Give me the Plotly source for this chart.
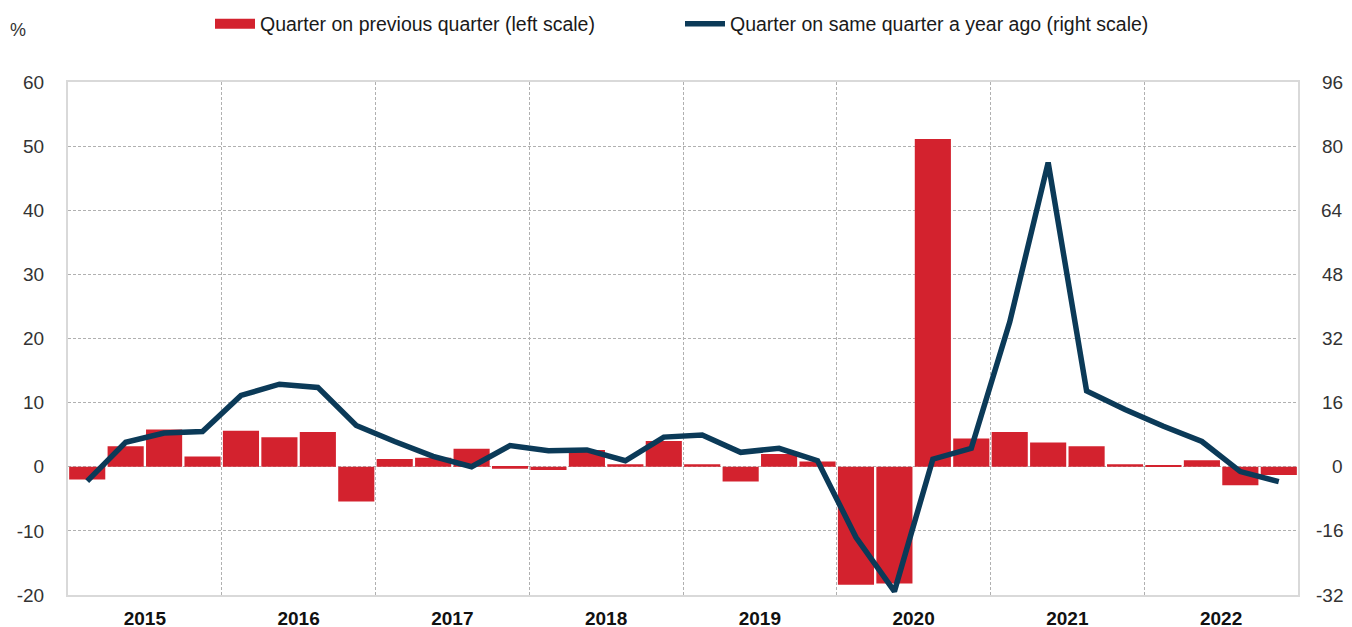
import plotly.graph_objects as go

years = ["2015", "2016", "2017", "2018", "2019", "2020", "2021", "2022"]
quarters = [f"{y} Q{q}" for y in years for q in range(1, 5)]

qoq = [-2.0, 3.2, 5.8, 1.6, 5.6, 4.6, 5.4, -5.4,
       1.2, 1.4, 2.8, -0.3, -0.5, 2.6, 0.4, 4.0,
       0.4, -2.3, 2.0, 0.8, -18.4, -18.2, 51.1, 4.4,
       5.4, 3.8, 3.2, 0.4, 0.2, 1.0, -2.9, -1.3]

yoy = [-3.6, 6.1, 8.4, 8.8, 17.8, 20.6, 19.8, 10.3,
       6.3, 2.6, 0.0, 5.3, 4.0, 4.2, 1.5, 7.4,
       7.9, 3.6, 4.6, 1.5, -17.6, -31.1, 1.9, 4.6,
       36.1, 75.9, 18.9, 14.3, 10.1, 6.3, -1.2, -3.7]

left_ticks = [-20, -10, 0, 10, 20, 30, 40, 50, 60]
right_ticks = [-32, -16, 0, 16, 32, 48, 64, 80, 96]

bar_name = "Quarter on previous quarter (left scale)"
line_name = "Quarter on same quarter a year ago (right scale)"

RED = "#d3222e"
NAVY = "#0b3a58"
FONT = "Liberation Sans Narrow, Arial Narrow, Liberation Sans, Arial"
GRID = "#b0b0b0"

# page renders the figure with an 8px body offset
OFF = 8
W, H = 1352, 627
L, T, R, B = 68 - OFF, 82 - OFF, W - (1298 - OFF), H - (595 - OFF)
PW, PH = W - L - R, H - T - B

xs = list(range(len(quarters)))

fig = go.Figure()
fig.add_trace(go.Bar(x=xs, y=qoq, name=bar_name, marker=dict(color=RED, line=dict(width=0)),
                     yaxis="y", showlegend=False, hovertext=quarters))
fig.add_trace(go.Scatter(x=xs, y=yoy, name=line_name, mode="lines",
                         line=dict(color=NAVY, width=5.5), yaxis="y2", showlegend=False,
                         hovertext=quarters))
# legend entries
fig.add_trace(go.Scatter(x=[None], y=[None], mode="lines", name=bar_name,
                         line=dict(color=RED, width=14)))
fig.add_trace(go.Scatter(x=[None], y=[None], mode="lines", name=line_name,
                         line=dict(color=NAVY, width=5.5)))

year_centers = [i * 4 + 1.5 for i in range(len(years))]

# right-aligned right-axis labels
right_x = 1 + (1345 - 1298) / PW
annotations = [dict(text=str(v), x=right_x, y=v, xref="paper", yref="y2", showarrow=False,
                    xanchor="right", yanchor="middle",
                    font=dict(size=19, family=FONT, color="#333")) for v in right_ticks]
annotations.append(dict(text="%", x=(18 - 68) / PW, y=1 + (82 - 30) / PH, xref="paper", yref="paper",
                        showarrow=False, xanchor="center", yanchor="middle",
                        font=dict(size=18, family=FONT, color="#333")))

fig.update_layout(
    width=W, height=H,
    margin=dict(l=L, r=R, t=T, b=B, autoexpand=False),
    paper_bgcolor="white", plot_bgcolor="white",
    font=dict(family=FONT, size=18, color="#1a1a1a"),
    bargap=0.06,
    legend=dict(orientation="h", x=0.5 - 3 / PW, xanchor="center", y=1 - (24 - OFF) / H, yref="container",
                yanchor="middle", font=dict(size=19.5, family=FONT, color="#1a1a1a"),
                itemwidth=40, traceorder="normal", bgcolor="rgba(0,0,0,0)",
                entrywidth=415, entrywidthmode="pixels"),
    xaxis=dict(range=[-0.5, 31.5], tickmode="array", tickvals=year_centers,
               ticktext=[f"<b>{y}</b>" for y in years], automargin=False,
               showgrid=False, zeroline=False, ticks="", tickfont=dict(size=19, family=FONT, color="#111"),
               ticklabelstandoff=5,
               showline=True, linecolor="#d9d9d9", linewidth=2, mirror=True,
               minor=dict(tickmode="linear", tick0=-0.5, dtick=4, showgrid=True, gridcolor=GRID,
                          griddash="3px,2px", gridwidth=1, ticks="")),
    yaxis=dict(range=[-20, 60], tickmode="array", tickvals=left_ticks,
               ticktext=[str(v) for v in left_ticks], automargin=False,
               showgrid=True, gridcolor=GRID, griddash="3px,2px",
               gridwidth=1, zeroline=False, ticks="", showline=True, linecolor="#d9d9d9",
               linewidth=2, mirror=True, ticklabelstandoff=18,
               tickfont=dict(size=19, family=FONT, color="#333")),
    yaxis2=dict(range=[-32, 96], tickmode="array", tickvals=right_ticks,
                automargin=False, overlaying="y", side="right", showgrid=False,
                showticklabels=False, zeroline=False, ticks=""),
    annotations=annotations,
)

fig.write_html("out.html")
